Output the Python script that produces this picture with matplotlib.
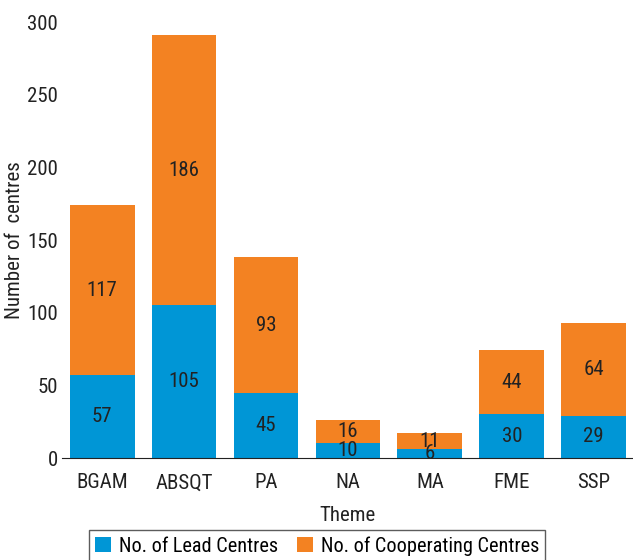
import matplotlib.pyplot as plt

# Dados
themes = ['BGAM', 'ABSQT', 'PA', 'NA', 'MA', 'FME', 'SSP']
lead = [57, 105, 45, 10, 6, 30, 29]
cooperating = [117, 186, 93, 16, 11, 44, 64]

plt.rcParams['font.family'] = ['Roboto Condensed', 'Liberation Sans', 'DejaVu Sans']
plt.rcParams['font.size'] = 15

blue = '#0096D6'
orange = '#F38222'
txt = '#222222'

fig = plt.figure(figsize=(6.33, 5.6), dpi=100)
ax = fig.add_axes([62 / 633, 102 / 560, 571 / 633, 436 / 560])

x = range(len(themes))
b1 = ax.bar(x, lead, width=0.79, color=blue, label='No. of Lead Centres')
b2 = ax.bar(x, cooperating, width=0.79, bottom=lead, color=orange,
            label='No. of Cooperating Centres')

# Rótulos dos valores
for i in x:
    ax.text(i, lead[i] / 2, str(lead[i]), ha='center', va='center', color=txt)
    ax.text(i, lead[i] + cooperating[i] / 2, str(cooperating[i]),
            ha='center', va='center', color=txt)

ax.set_xlim(-0.49, 6.48)
ax.set_ylim(0, 300)
ax.set_yticks([0, 50, 100, 150, 200, 250, 300])
ax.set_xticks(list(x))
ax.set_xticklabels(themes)
ax.tick_params(axis='both', length=0, colors=txt)
ax.tick_params(axis='x', pad=11)
ax.tick_params(axis='y', pad=3)
for s in ['top', 'right', 'left']:
    ax.spines[s].set_visible(False)
ax.spines['bottom'].set_color(txt)
ax.set_xlabel('Theme', color=txt, labelpad=10)
ax.set_ylabel('Number of  centres', color=txt, labelpad=2)

leg = fig.legend(handles=[b1, b2], loc='upper center',
                 bbox_to_anchor=(317 / 633, 1 - 530 / 560), ncol=2,
                 frameon=True, fancybox=False, edgecolor='#333333',
                 fontsize=14.6,
                 handlelength=0.8, handleheight=0.8, handletextpad=0.4,
                 columnspacing=0.9, borderpad=0.3, borderaxespad=0)
leg.get_frame().set_linewidth(1.0)

fig.savefig('out.png', dpi=100)
